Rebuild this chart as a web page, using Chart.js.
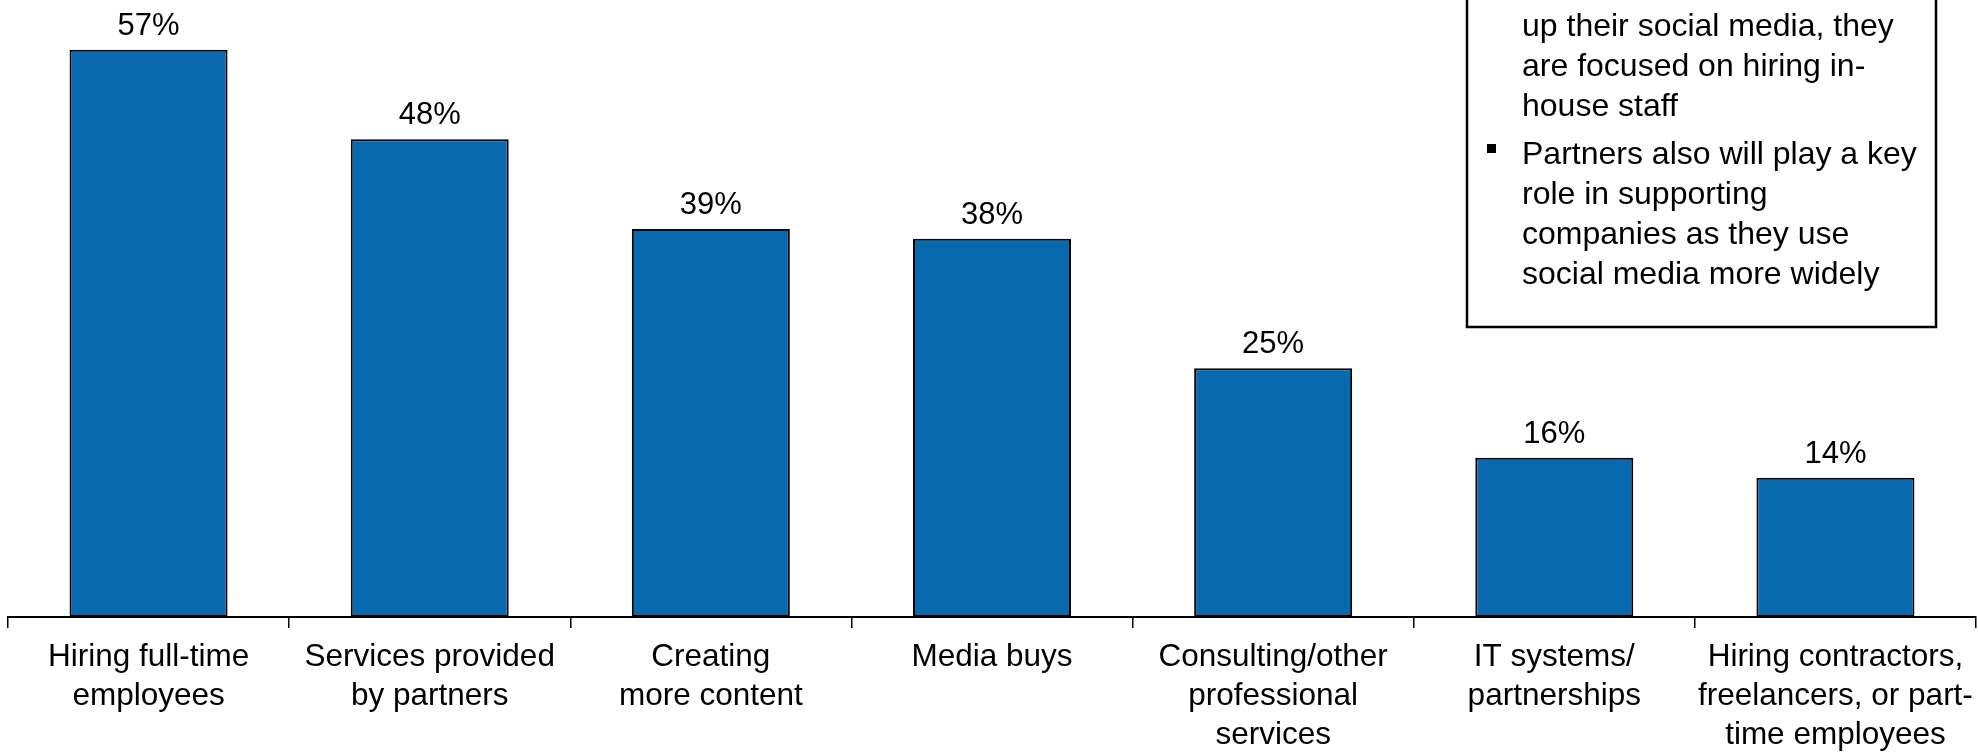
<!DOCTYPE html>
<html>
<head>
<meta charset="utf-8">
<title>Social media spending</title>
<script src="https://cdn.jsdelivr.net/npm/chart.js@4.4.1/dist/chart.umd.min.js"></script>
<style>
  html, body { margin: 0; padding: 0; background: #fff; }
  #wrap { width: 1978px; height: 755px; }
</style>
</head>
<body>
<div id="wrap"><canvas id="myChart" width="1978" height="755"></canvas></div>
<script>
var categories = [
  ["Hiring full-time", "employees"],
  ["Services provided", "by partners"],
  ["Creating", "more content"],
  ["Media buys"],
  ["Consulting/other", "professional", "services"],
  ["IT systems/", "partnerships"],
  ["Hiring contractors,", "freelancers, or part-", "time employees"]
];
var shares = [57, 48, 39, 38, 25, 16, 14];

// side note, split into paragraphs the way it wraps in the box
var noteParagraphs = [
  ["up their social media, they", "are focused on hiring in-", "house staff"],
  ["Partners also will play a key", "role in supporting", "companies as they use", "social media more widely"]
];

var FONT = "Liberation Sans, Arial, Helvetica, sans-serif";

// percent labels over each bar
var valueLabels = {
  id: "valueLabels",
  afterDatasetsDraw: function(chart) {
    var ctx = chart.ctx;
    var meta = chart.getDatasetMeta(0);
    ctx.save();
    ctx.fillStyle = "#000";
    ctx.font = "31px " + FONT;
    ctx.textAlign = "center";
    ctx.textBaseline = "alphabetic";
    meta.data.forEach(function(bar, i) {
      ctx.fillText(shares[i] + "%", bar.x, bar.y - 15);
    });
    ctx.restore();
  }
};

// bordered text box in the top right corner
var noteBox = {
  id: "noteBox",
  afterDraw: function(chart) {
    var ctx = chart.ctx;
    ctx.save();
    ctx.strokeStyle = "#000";
    ctx.lineWidth = 2.5;
    ctx.strokeRect(1467, -10, 469, 337);
    ctx.fillStyle = "#000";
    ctx.font = "32px " + FONT;
    ctx.textAlign = "left";
    ctx.textBaseline = "alphabetic";
    var y = 36 - 40;
    noteParagraphs.forEach(function(lines, p) {
      if (p > 0) {
        y += 8;
        // square bullet; the first paragraph starts above the top edge
        ctx.fillRect(1487, y + 40 - 20, 9, 9);
      }
      lines.forEach(function(line) {
        y += 40;
        ctx.fillText(line, 1522, y);
      });
    });
    ctx.restore();
  }
};

var ctx = document.getElementById("myChart").getContext("2d");
var chart = new Chart(ctx, {
  type: "bar",
  data: {
    labels: categories,
    datasets: [
      {
        data: shares,
        backgroundColor: "#0869AE",
        borderColor: "#000",
        borderWidth: 2,
        borderSkipped: false,
        categoryPercentage: 1,
        barPercentage: 0.562
      }
    ]
  },
  options: {
    responsive: false,
    animation: false,
    layout: { padding: { left: 8, right: 2, top: 0, bottom: -10 } },
    plugins: {
      legend: { display: false },
      tooltip: { enabled: false }
    },
    scales: {
      x: {
        offset: true,
        // let the last label run to the edge instead of shrinking the axis
        afterFit: function(scale) {
          scale.paddingLeft = 0;
          scale.paddingRight = 0;
        },
        grid: {
          offset: true,
          drawOnChartArea: false,
          drawTicks: true,
          tickLength: 11,
          color: "#000",
          lineWidth: 1.5
        },
        border: { display: true, color: "#000", width: 2 },
        ticks: {
          color: "#000",
          padding: 10,
          maxRotation: 0,
          autoSkip: false,
          font: { family: FONT, size: 31.5, lineHeight: 39 / 31.5 }
        }
      },
      y: {
        display: false,
        min: 0,
        max: 62
      }
    }
  },
  plugins: [valueLabels, noteBox]
});
</script>
</body>
</html>
